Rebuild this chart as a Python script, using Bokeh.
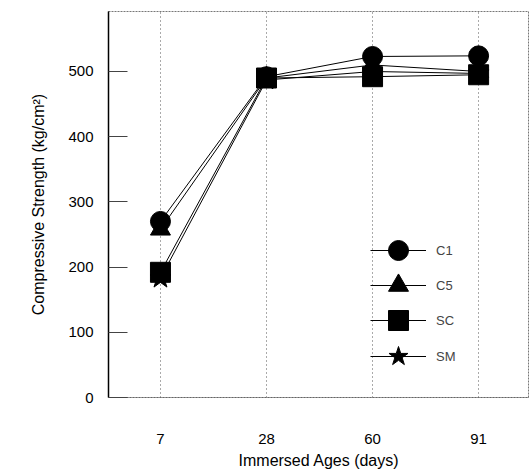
from bokeh.plotting import figure
from bokeh.models import Range1d, FixedTicker, Legend, LegendItem
from bokeh.embed import file_html
from bokeh.resources import INLINE

ages = ["7", "28", "60", "91"]
c1 = [270, 492, 523, 524]
c5 = [258, 490, 510, 500]
sc = [192, 490, 492, 495]
sm = [183, 487, 500, 497]
y_ticks = [0, 100, 200, 300, 400, 500]

series = [("C1", c1, "circle", 20), ("C5", c5, "triangle", 20),
          ("SC", sc, "square", 20), ("SM", sm, "star", 22)]

xs = list(range(len(ages)))
FONT = "Liberation Sans"

p = figure(width=529, height=472, output_backend="svg", toolbar_location=None,
           x_range=Range1d(-0.49, 3.48), y_range=Range1d(0, 592),
           min_border_left=108, min_border_right=0, min_border_top=11, min_border_bottom=75)

p.outline_line_color = "#777777"
p.outline_line_dash = "2 1"
p.outline_line_width = 1

items = []
for name, vals, marker, size in series:
    ln = p.line(xs, vals, line_color="black", line_width=1)
    sc_r = p.scatter(xs, vals, marker=marker, size=size, fill_color="black", line_color="black")
    items.append(LegendItem(label=name, renderers=[ln, sc_r]))

# axes
p.xaxis.ticker = FixedTicker(ticks=xs)
p.xaxis.major_label_overrides = {i: a for i, a in enumerate(ages)}
p.xaxis.major_tick_line_color = None
p.xaxis.minor_tick_line_color = None
p.xaxis.axis_line_color = "#666666"
p.xaxis.axis_line_dash = "2 1"
p.xaxis.major_label_standoff = 30
p.xaxis.axis_label = "Immersed Ages (days)"
p.xaxis.axis_label_standoff = 5

p.yaxis.ticker = FixedTicker(ticks=y_ticks)
p.yaxis.major_tick_in = 19
p.yaxis.major_tick_out = 0
p.yaxis.major_tick_line_color = "#444444"
p.yaxis.minor_tick_line_color = None
p.yaxis.axis_line_color = "black"
p.yaxis.axis_line_width = 1.5
p.yaxis.major_label_standoff = 15
p.yaxis.axis_label = "Compressive Strength (kg/cm²)"
p.yaxis.axis_label_standoff = 18

for ax in [p.xaxis[0], p.yaxis[0]]:
    ax.major_label_text_font = FONT
    ax.major_label_text_font_size = "15px"
    ax.major_label_text_color = "black"
    ax.axis_label_text_font = FONT
    ax.axis_label_text_font_size = "16px"
    ax.axis_label_text_font_style = "normal"
    ax.axis_label_text_color = "black"

p.xgrid.ticker = FixedTicker(ticks=xs)
p.xgrid.grid_line_color = "#555555"
p.xgrid.grid_line_dash = "1 3"
p.ygrid.grid_line_color = None

# one legend per entry so rows can sit closer than the marker size
offsets = [122, 87, 52, 16]
for item, yoff in zip(items, offsets):
    lg = Legend(items=[item], location=(262, yoff), padding=0, margin=0,
                spacing=0, glyph_width=56, glyph_height=50, label_standoff=10,
                border_line_color=None, background_fill_alpha=0,
                label_text_font=FONT, label_text_font_size="13px")
    p.add_layout(lg, "center")

open("out.html", "w").write(file_html(p, INLINE))
